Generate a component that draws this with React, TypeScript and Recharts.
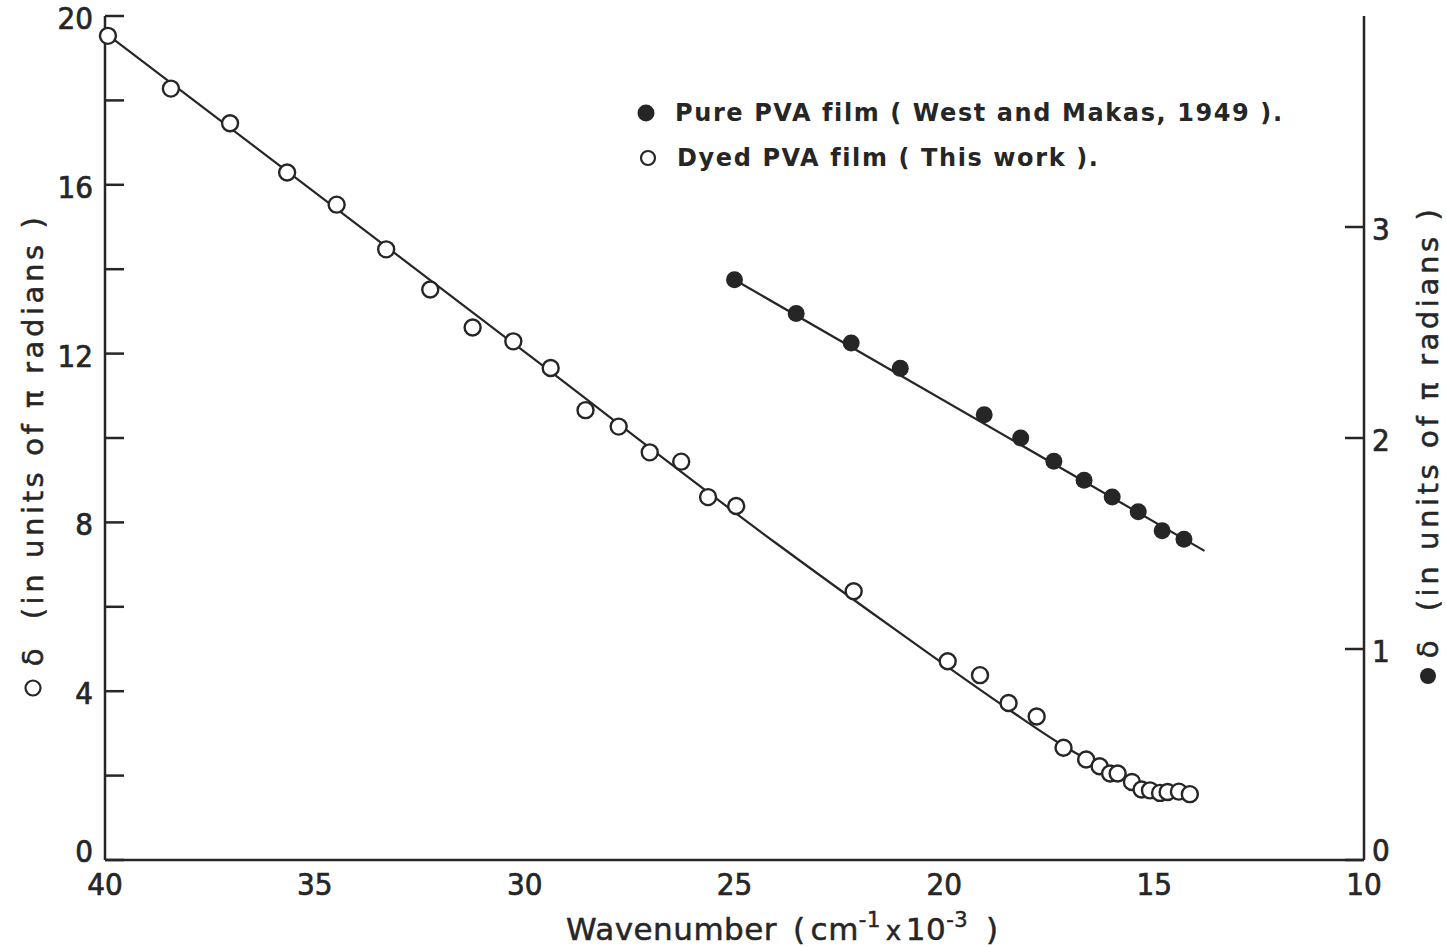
import React from 'react';
import { ComposedChart, Line, Scatter, XAxis, YAxis, Legend } from 'recharts';

const INK = '#262626';
const NARROW = '"DejaVu Sans Condensed", "DejaVu Sans", sans-serif';
const WIDE = '"DejaVu Sans", sans-serif';

const WIDTH = 1447;
const HEIGHT = 947;
const PLOT_LEFT = 105;
const PLOT_RIGHT = 1364;
const PLOT_TOP = 16;
const PLOT_BOTTOM = 860;

// axis ticks
const xTicks = [40, 35, 30, 25, 20, 15, 10];
const leftTicks = [0, 2, 4, 6, 8, 10, 12, 14, 16, 18, 20];
const leftLabelled = [0, 4, 8, 12, 16, 20];
const rightTicks = [0, 1, 2, 3];

// dyed PVA film, delta in units of pi (left axis)
const dyedWavenumber = [
  39.93, 38.43, 37.02, 35.66, 34.48, 33.3, 32.25, 31.24, 30.27, 29.38, 28.55,
  27.76, 27.02, 26.27, 25.63, 24.96, 22.16, 19.92, 19.15, 18.47, 17.8, 17.16,
  16.62, 16.3, 16.05, 15.87, 15.53, 15.3, 15.1, 14.86, 14.68, 14.41, 14.15,
];
const dyedDelta = [
  19.53, 18.28, 17.46, 16.29, 15.53, 14.47, 13.52, 12.62, 12.29, 11.66, 10.66,
  10.27, 9.66, 9.44, 8.6, 8.39, 6.37, 4.71, 4.38, 3.72, 3.4, 2.66,
  2.38, 2.22, 2.05, 2.05, 1.85, 1.67, 1.65, 1.59, 1.61, 1.62, 1.56,
];

// smooth curve drawn through the dyed film points
const dyedCurveWavenumber = [40, 30, 24, 21, 18.5, 17.2, 16.6, 16.0, 15.5, 15.1, 14.7, 14.15];
const dyedCurveDelta = [19.6, 12.04, 7.5, 5.34, 3.59, 2.73, 2.38, 2.06, 1.82, 1.67, 1.59, 1.55];

// pure PVA film (West and Makas, 1949), delta in units of pi (right axis)
const pureWavenumber = [25.0, 23.53, 22.22, 21.05, 19.05, 18.18, 17.39, 16.67, 16.0, 15.38, 14.81, 14.29];
const pureDelta = [2.75, 2.59, 2.45, 2.33, 2.11, 2.0, 1.89, 1.8, 1.72, 1.65, 1.56, 1.52];

// straight fit for the pure film
const pureFitWavenumber = [25.0, 13.8];
const pureFitDelta = [2.75, 1.465];

const zip = (xs: number[], ys: number[]) => xs.map((x, i) => ({ x, y: ys[i] }));

const dyedPoints = zip(dyedWavenumber, dyedDelta);
const dyedCurve = zip(dyedCurveWavenumber, dyedCurveDelta);
const purePoints = zip(pureWavenumber, pureDelta);
const pureFit = zip(pureFitWavenumber, pureFitDelta);

const tickText = {
  fontSize: 31,
  fill: INK,
  stroke: INK,
  strokeWidth: 0.7,
  fontFamily: NARROW,
};

function XTick({ x, payload }: any) {
  return (
    <text x={x} y={PLOT_BOTTOM + 35} textAnchor="middle" {...tickText}>
      {payload.value}
    </text>
  );
}

function LeftTick({ y, payload }: any) {
  const v = payload.value;
  return (
    <g>
      <line x1={PLOT_LEFT} x2={PLOT_LEFT + 19} y1={y} y2={y} stroke={INK} strokeWidth={2.5} />
      {leftLabelled.includes(v) && (
        <text x={PLOT_LEFT - 12} y={y + (v === 0 ? 2 : 13)} textAnchor="end" {...tickText}>
          {v}
        </text>
      )}
    </g>
  );
}

function RightTick({ y, payload }: any) {
  const v = payload.value;
  return (
    <g>
      <line x1={PLOT_RIGHT - 19} x2={PLOT_RIGHT} y1={y} y2={y} stroke={INK} strokeWidth={2.5} />
      <text x={PLOT_RIGHT + 8} y={y + (v === 0 ? 1 : 13)} textAnchor="start" {...tickText}>
        {v}
      </text>
    </g>
  );
}

const titleText = {
  fill: INK,
  stroke: INK,
  strokeWidth: 0.5,
  fontFamily: WIDE,
};

function XTitle() {
  return (
    <text x={566} y={940} fontSize={31} letterSpacing={0.5} {...titleText}>
      Wavenumber
      <tspan x={793}>(</tspan>
      <tspan dx={5}>cm</tspan>
      <tspan dy={-13} fontSize={21}>-1</tspan>
      <tspan dy={13} dx={5} fontSize={26}>x</tspan>
      <tspan dx={4}>10</tspan>
      <tspan dy={-13} fontSize={21}>-3</tspan>
      <tspan dy={13} x={986}>)</tspan>
    </text>
  );
}

function SideTitle({ cx, cy, markY, filled }: { cx: number; cy: number; markY: number; filled: boolean }) {
  return (
    <g>
      {filled ? (
        <circle cx={cx} cy={markY} r={8} fill={INK} />
      ) : (
        <circle cx={cx} cy={markY} r={7.5} fill="#fff" stroke={INK} strokeWidth={2.2} />
      )}
      <text
        x={cx}
        y={cy}
        transform={`rotate(-90 ${cx} ${cy})`}
        textAnchor="middle"
        dominantBaseline="central"
        fontSize={29}
        letterSpacing={3.6}
        style={{ whiteSpace: 'pre' }}
        {...titleText}
      >
        δ  (in units of π radians )
      </text>
    </g>
  );
}

const LeftTitle = () => <SideTitle cx={33} cy={440} markY={688} filled={false} />;
const RightTitle = () => <SideTitle cx={1428} cy={432} markY={676} filled />;

function Key() {
  const text = {
    fontSize: 24,
    fill: INK,
    fontFamily: WIDE,
    fontWeight: 'bold' as const,
    letterSpacing: 1.6,
  };
  return (
    <svg width={720} height={100}>
      <circle cx={26} cy={25} r={8.5} fill={INK} />
      <text x={55} y={33} {...text} style={{ whiteSpace: 'pre' }}>
        Pure PVA film ( West and Makas, 1949 ).
      </text>
      <circle cx={28} cy={70} r={7} fill="#fff" stroke={INK} strokeWidth={2.2} />
      <text x={57} y={78} {...text} style={{ whiteSpace: 'pre' }}>
        Dyed PVA film ( This work ).
      </text>
    </svg>
  );
}

const OpenDot = (p: any) => (
  <circle cx={p.cx} cy={p.cy} r={8} fill="#fff" stroke={INK} strokeWidth={2.4} />
);
const FilledDot = (p: any) => <circle cx={p.cx} cy={p.cy} r={8.5} fill={INK} />;

export default function App() {
  return (
    <div style={{ position: 'absolute', left: 0, top: 0, width: WIDTH, height: HEIGHT, background: '#fff' }}>
      <ComposedChart width={WIDTH} height={HEIGHT} margin={{ top: PLOT_TOP, right: 0, bottom: 0, left: 0 }}>
        <XAxis
          type="number"
          dataKey="x"
          domain={[10, 40]}
          reversed
          ticks={xTicks}
          interval={0}
          height={HEIGHT - PLOT_BOTTOM}
          tickLine={false}
          tickSize={0}
          axisLine={{ stroke: INK, strokeWidth: 2.5 }}
          tick={<XTick />}
          label={<XTitle />}
        />
        <YAxis
          yAxisId="left"
          type="number"
          dataKey="y"
          domain={[0, 20]}
          ticks={leftTicks}
          interval={0}
          width={PLOT_LEFT}
          tickLine={false}
          tickSize={0}
          axisLine={{ stroke: INK, strokeWidth: 2.5 }}
          tick={<LeftTick />}
          label={<LeftTitle />}
        />
        <YAxis
          yAxisId="right"
          orientation="right"
          type="number"
          dataKey="y"
          domain={[0, 4]}
          ticks={rightTicks}
          interval={0}
          width={WIDTH - PLOT_RIGHT}
          tickLine={false}
          tickSize={0}
          axisLine={{ stroke: INK, strokeWidth: 2.5 }}
          tick={<RightTick />}
          label={<RightTitle />}
        />
        <Legend
          layout="horizontal"
          verticalAlign="middle"
          align="center"
          content={<Key />}
          wrapperStyle={{ left: 620, top: 88, width: 720, height: 100 }}
        />
        <Line
          yAxisId="left"
          data={dyedCurve}
          dataKey="y"
          type="monotone"
          stroke={INK}
          strokeWidth={2.2}
          dot={false}
          isAnimationActive={false}
        />
        <Line
          yAxisId="right"
          data={pureFit}
          dataKey="y"
          type="linear"
          stroke={INK}
          strokeWidth={2.2}
          dot={false}
          isAnimationActive={false}
        />
        <Scatter yAxisId="left" data={dyedPoints} dataKey="y" shape={OpenDot} isAnimationActive={false} />
        <Scatter yAxisId="right" data={purePoints} dataKey="y" shape={FilledDot} isAnimationActive={false} />
      </ComposedChart>
    </div>
  );
}
